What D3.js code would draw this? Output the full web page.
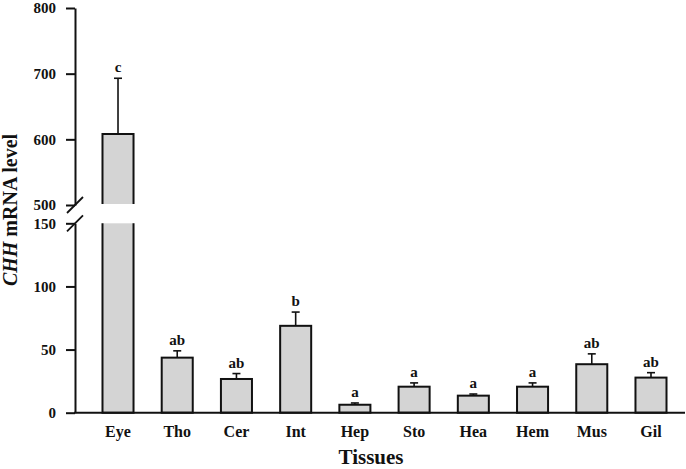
<!DOCTYPE html>
<html>
<head>
<meta charset="utf-8">
<script src="https://cdn.jsdelivr.net/npm/d3@7"></script>
<style>
  html, body { margin: 0; padding: 0; background: #fff; }
  svg { display: block; font-family: "Liberation Serif", "Times New Roman", serif; font-weight: bold; }
</style>
</head>
<body>
<svg id="chart" width="686" height="469"></svg>
<script>
// ---- data ----
const categories = ["Eye", "Tho", "Cer", "Int", "Hep", "Sto", "Hea", "Hem", "Mus", "Gil"];
const means      = [608, 43.6, 26.7, 68.8, 6.3, 20.6, 13.5, 20.6, 38.4, 27.8];
const errors     = [85, 5.4, 4.3, 10.9, 1.4, 3.0, 1.3, 3.0, 8.2, 3.9];
const letters    = ["c", "ab", "ab", "b", "a", "a", "a", "a", "ab", "ab"];
const ticksUpper = [500, 600, 700, 800];
const ticksLower = [0, 50, 100, 150];
const breakLow = 150, breakHigh = 500;

// ---- layout ----
const svg = d3.select("#chart");
const axisX = 75;
const yUpper = d3.scaleLinear().domain([breakHigh, 800]).range([205, 8]);
const yLower = d3.scaleLinear().domain([0, breakLow]).range([412.7, 223.3]);
const x = d3.scaleBand().domain(categories).range([88.4, 680.6])
  .paddingInner(0.476).paddingOuter(0.238);
const data = categories.map((c, i) => ({ c, m: means[i], e: errors[i], l: letters[i] }));
const yVal = v => v > breakHigh ? yUpper(v) : yLower(Math.min(v, breakLow));

const ink = "#111";
const fill = "#d4d4d4";

// ---- bars ----
const g = svg.append("g");
data.forEach(d => {
  const x0 = x(d.c), x1 = x(d.c) + x.bandwidth();
  if (d.m > breakHigh) {
    const top = yUpper(d.m), bot = yUpper(breakHigh) - 1;
    g.append("rect").attr("x", x0).attr("y", top).attr("width", x1 - x0).attr("height", bot - top).attr("fill", fill);
    g.append("path").attr("d", `M${x0},${bot}V${top}H${x1}V${bot}`).attr("fill", "none").attr("stroke", ink).attr("stroke-width", 2);
    const t2 = yLower(breakLow), b2 = yLower(0);
    g.append("rect").attr("x", x0).attr("y", t2).attr("width", x1 - x0).attr("height", b2 - t2).attr("fill", fill);
    g.append("path").attr("d", `M${x0},${t2}V${b2}H${x1}V${t2}`).attr("fill", "none").attr("stroke", ink).attr("stroke-width", 2);
  } else {
    const top = yLower(d.m), bot = yLower(0);
    g.append("rect").attr("x", x0).attr("y", top).attr("width", x1 - x0).attr("height", bot - top)
      .attr("fill", fill).attr("stroke", ink).attr("stroke-width", 2);
  }
  const cx = x(d.c) + x.bandwidth() / 2;
  const yTop = yVal(d.m), yErr = yVal(d.m + d.e);
  g.append("line").attr("x1", cx).attr("x2", cx).attr("y1", yTop).attr("y2", yErr).attr("stroke", ink).attr("stroke-width", 1.6);
  g.append("line").attr("x1", cx - 4).attr("x2", cx + 4).attr("y1", yErr).attr("y2", yErr).attr("stroke", ink).attr("stroke-width", 1.6);
  g.append("text").attr("x", cx).attr("y", yErr - 6).attr("text-anchor", "middle")
    .attr("font-size", 15).attr("fill", ink).text(d.l);
});

// ---- axes ----
function styleAxis(sel) {
  sel.selectAll("path.domain").attr("stroke", ink).attr("stroke-width", 2);
  sel.selectAll(".tick line").attr("stroke", ink).attr("stroke-width", 2);
  sel.selectAll(".tick text").attr("font-size", 15).attr("font-family", "Liberation Serif, serif")
    .attr("font-weight", "bold").attr("fill", ink);
}
const axU = svg.append("g").attr("transform", `translate(${axisX},0)`)
  .call(d3.axisLeft(yUpper).tickValues(ticksUpper).tickSize(9).tickSizeOuter(0).tickPadding(10));
styleAxis(axU);
const axL = svg.append("g").attr("transform", `translate(${axisX},0)`)
  .call(d3.axisLeft(yLower).tickValues(ticksLower).tickSize(9).tickSizeOuter(0).tickPadding(10));
styleAxis(axL);

// break marks
[yUpper(breakHigh), yLower(breakLow)].forEach(yy => {
  svg.append("line").attr("x1", axisX - 8).attr("x2", axisX + 8).attr("y1", yy + 8).attr("y2", yy - 8)
    .attr("stroke", ink).attr("stroke-width", 1.8);
});

// x axis
const axB = svg.append("g").attr("transform", `translate(0,${yLower(0)})`)
  .call(d3.axisBottom(x).tickSize(0).tickPadding(13));
axB.select("path.domain").remove();
axB.selectAll(".tick text").attr("font-size", 16).attr("font-family", "Liberation Serif, serif")
  .attr("font-weight", "bold").attr("fill", ink);
svg.append("line").attr("x1", axisX - 1).attr("x2", 685).attr("y1", yLower(0)).attr("y2", yLower(0))
  .attr("stroke", ink).attr("stroke-width", 2);

// titles
svg.append("text").attr("x", 371).attr("y", 464).attr("text-anchor", "middle")
  .attr("font-size", 21).attr("fill", ink).text("Tissues");
const yl = svg.append("text").attr("transform", "translate(17,210) rotate(-90)")
  .attr("text-anchor", "middle").attr("font-size", 20).attr("fill", ink);
yl.append("tspan").attr("font-style", "italic").text("CHH");
yl.append("tspan").text(" mRNA level");
</script>
</body>
</html>
